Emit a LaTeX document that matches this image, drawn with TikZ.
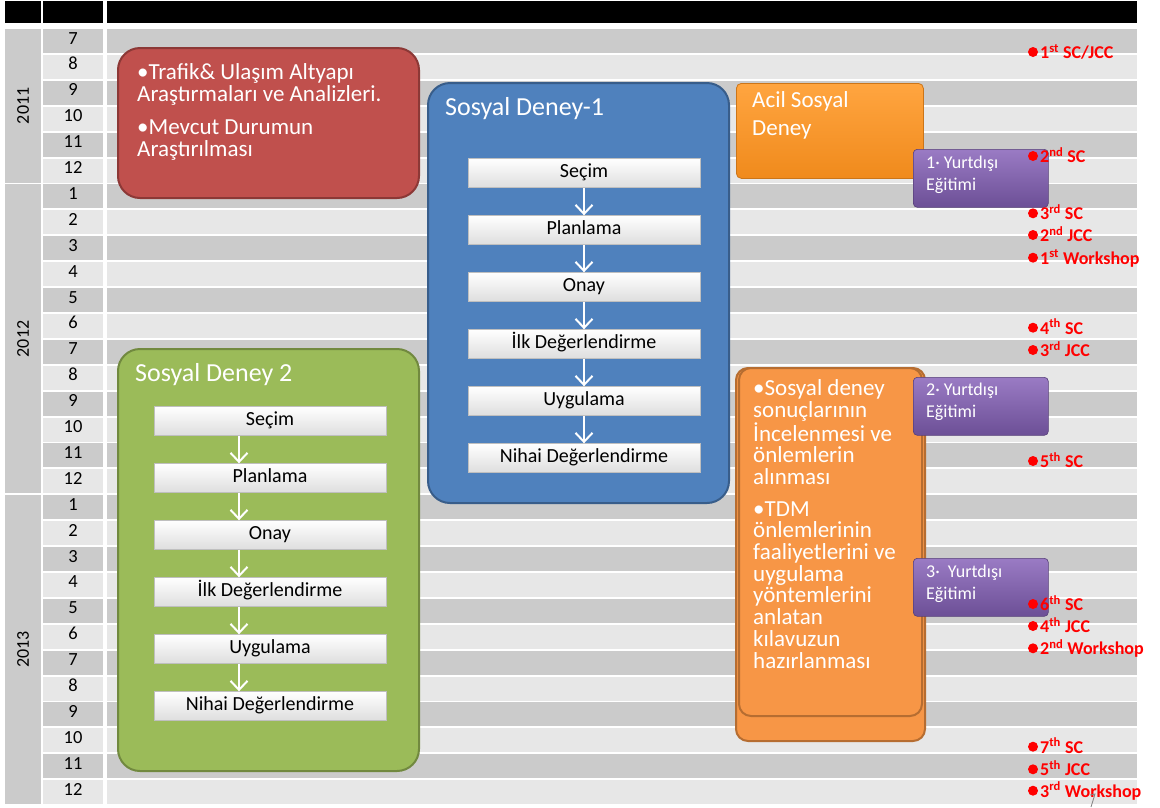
\documentclass[tikz,border=0pt]{standalone}
\usepackage{fontspec}
\setmainfont{Carlito}
\usepackage{xcolor}
\usetikzlibrary{arrows.meta}

\definecolor{rowdark}{HTML}{CBCBCB}
\definecolor{rowlight}{HTML}{E7E7E7}
\definecolor{redfill}{HTML}{C0504D}
\definecolor{redline}{HTML}{8C3836}
\definecolor{bluefill}{HTML}{4F81BD}
\definecolor{blueline}{HTML}{385D8A}
\definecolor{greenfill}{HTML}{9BBB59}
\definecolor{greenline}{HTML}{71893F}
\definecolor{orangefill}{HTML}{F79646}
\definecolor{orangeline}{HTML}{B66D31}
\definecolor{acillight}{HTML}{FFA540}
\definecolor{acildark}{HTML}{F08A1C}
\definecolor{purplelight}{HTML}{9A7BC4}
\definecolor{purpledark}{HTML}{6C4F96}
\definecolor{msred}{HTML}{FF0000}

\tikzset{
  phasebox/.style={rounded corners=22pt, line width=2pt, anchor=north west, inner sep=0pt},
  boxtext/.style={white, anchor=north west, inner sep=0pt, align=left, font=\fontsize{23}{22.5}\selectfont},
  titletext/.style={white, anchor=base west, inner sep=0pt, font=\fontsize{26}{26}\selectfont},
  stagebox/.style={draw=black!25, top color=white, bottom color=black!13, minimum width=232pt, minimum height=29pt,
    inner sep=0pt, text height=14pt, text depth=4.5pt, font=\fontsize{20}{20}\selectfont},
  flow/.style={white, line width=2pt, -{Straight Barb[length=9pt,width=17pt]}},
  trainbox/.style={anchor=north west, rounded corners=4pt, top color=purplelight, bottom color=purpledark,
    draw=purpledark!80!black, line width=0.6pt, minimum width=135pt, minimum height=58pt, inner sep=0pt},
  traintext/.style={white, anchor=north west, inner sep=0pt, align=left, font=\fontsize{18}{22}\selectfont},
  monthlabel/.style={anchor=base, inner sep=0pt, font=\fontsize{18.5}{18.5}\selectfont},
  yearlabel/.style={rotate=90, inner sep=0pt, font=\fontsize{18}{18}\selectfont},
  msdot/.style={circle, fill=msred, minimum size=10pt, inner sep=0pt},
  mslabel/.style={msred, anchor=base west, inner sep=0pt, font=\fontsize{18}{18}\selectfont\bfseries}
}

\begin{document}
\begin{tikzpicture}[x=1pt,y=-1pt]
  \useasboundingbox (0,0) rectangle (1160,807);

  % header
  \fill[black] (5,1) rectangle (41,23);
  \fill[black] (43,1) rectangle (103,23);
  \fill[black] (107,1) rectangle (1137,23);

  % years
  \fill[rowdark] (5,29) rectangle (41,182.5);
  \fill[rowdark] (5,184.4) rectangle (41,493.3);
  \fill[rowdark] (5,495.2) rectangle (41,804.1);
  \node[yearlabel] (y2011) at (23,105.8) {2011};
  \node[yearlabel] (y2012) at (23,338.9) {2012};
  \node[yearlabel] (y2013) at (23,649.7) {2013};

  % month rows
  \foreach \m [count=\i from 0] in {7,8,9,10,11,12,1,2,3,4,5,6,7,8,9,10,11,12,1,2,3,4,5,6,7,8,9,10,11,12}{
    \pgfmathsetmacro{\rtop}{29+25.9*\i}
    \ifodd\i \def\rcol{rowlight}\else \def\rcol{rowdark}\fi
    \fill[\rcol] (43,\rtop) rectangle ++(60,24);
    \fill[\rcol] (107,\rtop) rectangle ++(1030,24);
    \node[monthlabel] (m\i) at (73,\rtop+15) {\m};
  }

  % analysis
  \node[phasebox, fill=redfill, draw=redline, minimum width=301pt, minimum height=150pt] (analiz) at (117,47) {};
  \node[boxtext] (analiztext) at (137,63) {•Trafik\& Ulaşım Altyapı\\Araştırmaları ve Analizleri.\\[10pt]•Mevcut Durumun\\Araştırılması};

  % social experiment 1
  \node[phasebox, fill=bluefill, draw=blueline, minimum width=301pt, minimum height=420pt] (deney1) at (427,82) {};
  \node[titletext] (deney1title) at (445,115) {Sosyal Deney-1};
  \node[stagebox] (a1) at (584,173) {Seçim};
  \node[stagebox] (a2) at (584,230) {Planlama};
  \node[stagebox] (a3) at (584,287) {Onay};
  \node[stagebox] (a4) at (584,344) {İlk Değerlendirme};
  \node[stagebox] (a5) at (584,401) {Uygulama};
  \node[stagebox] (a6) at (584,458) {Nihai Değerlendirme};
  \foreach \p/\q in {a1/a2,a2/a3,a3/a4,a4/a5,a5/a6}
    \draw[flow] (\p) -- (\q);

  % social experiment 2
  \node[phasebox, fill=greenfill, draw=greenline, minimum width=301pt, minimum height=422pt] (deney2) at (117,348) {};
  \node[titletext] (deney2title) at (135,381.4) {Sosyal Deney 2};
  \node[stagebox] (b1) at (270,421) {Seçim};
  \node[stagebox] (b2) at (270,478) {Planlama};
  \node[stagebox] (b3) at (270,535) {Onay};
  \node[stagebox] (b4) at (270,592) {İlk Değerlendirme};
  \node[stagebox] (b5) at (270,649) {Uygulama};
  \node[stagebox] (b6) at (270,706) {Nihai Değerlendirme};
  \foreach \p/\q in {b1/b2,b2/b3,b3/b4,b4/b5,b5/b6}
    \draw[flow] ([xshift=-31pt]\p.south) -- ([xshift=-31pt]\q.north);

  % urgent experiment
  \node[phasebox, rounded corners=5pt, top color=acillight, bottom color=acildark, draw=acildark!85!black,
    line width=0.8pt, minimum width=187pt, minimum height=95pt] (acil) at (736,83) {};
  \node[boxtext, font=\fontsize{23}{28}\selectfont] (aciltext) at (752,91.5) {Acil Sosyal\\Deney};

  % results and TDM guide
  \node[phasebox, rounded corners=12pt, fill=orangefill, draw=orangeline, minimum width=189pt, minimum height=373pt] (sonucback) at (735,367) {};
  \node[phasebox, rounded corners=12pt, fill=orangefill, draw=orangeline, minimum width=183pt, minimum height=348pt] (sonuc) at (738,367) {};
  \node[boxtext, font=\fontsize{23}{21.7}\selectfont] (sonuctext) at (753,379.5) {•Sosyal deney\\sonuçlarının\\İncelenmesi ve\\önlemlerin\\alınması\\[10pt]•TDM\\önlemlerinin\\faaliyetlerini ve\\uygulama\\yöntemlerini\\anlatan\\kılavuzun\\hazırlanması};

  % trainings abroad
  \node[trainbox] (egitim1) at (913,149) {};
  \node[traintext] (egitim1text) at (926,155.5) {1· Yurtdışı\\Eğitimi};
  \node[trainbox] (egitim2) at (913,377) {};
  \node[traintext] (egitim2text) at (926,382.8) {2· Yurtdışı\\Eğitimi};
  \node[trainbox] (egitim3) at (913,558) {};
  \node[traintext] (egitim3text) at (926,564.5) {3·\hspace{4pt} Yurtdışı\\Eğitimi};

  % meetings
  \foreach \y/\t [count=\k] in {52/{1\textsuperscript{st} SC/JCC},156/{2\textsuperscript{nd} SC},213.3/{3\textsuperscript{rd} SC},
      235/{2\textsuperscript{nd} JCC},257.7/{1\textsuperscript{st} Workshop},327.7/{4\textsuperscript{th} SC},350/{3\textsuperscript{rd} JCC},
      461/{5\textsuperscript{th} SC},604/{6\textsuperscript{th} SC},626/{4\textsuperscript{th} JCC},648.3/{2\textsuperscript{nd} Workshop},
      746.7/{7\textsuperscript{th} SC},769.3/{5\textsuperscript{th} JCC},790.7/{3\textsuperscript{rd} Workshop}}{
    \node[msdot] (dot\k) at (1033,\y) {};
    \node[mslabel] (ms\k) at (1040,\y+6.5) {\t};
  }

  \draw[gray, line width=0.8pt] (1090,795) -- (1095,794) -- (1091,807);
\end{tikzpicture}
\end{document}
